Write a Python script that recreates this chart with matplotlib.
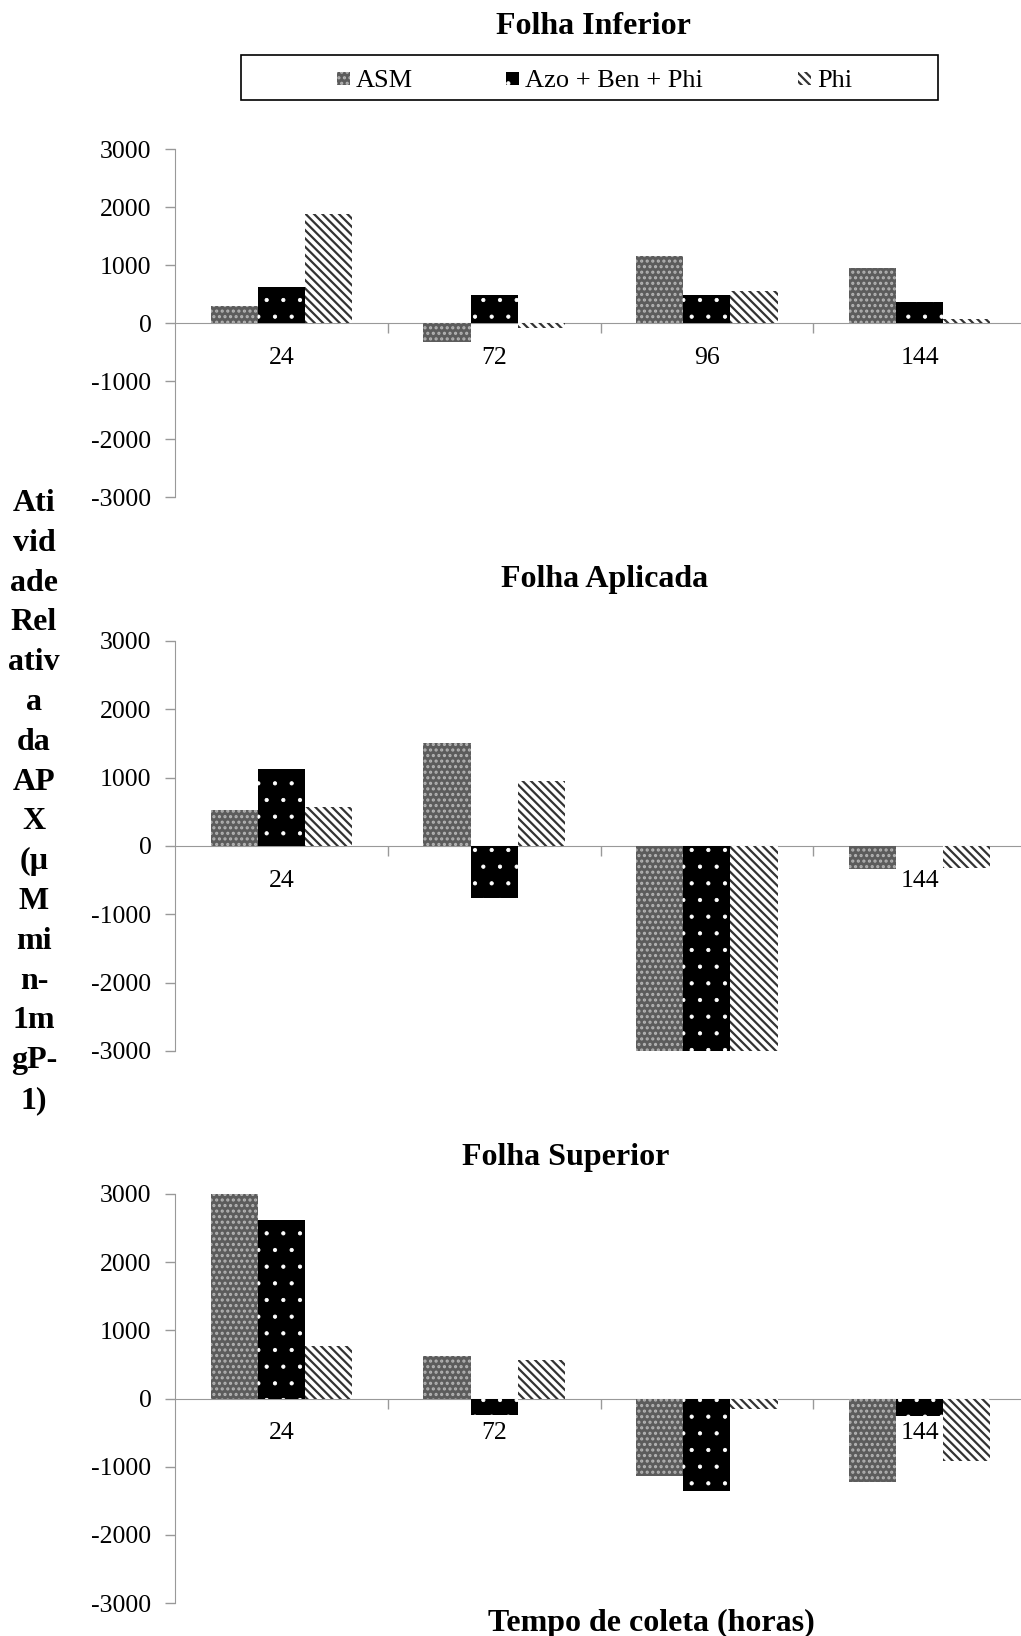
import numpy as np
import matplotlib
matplotlib.use("Agg")
import matplotlib.pyplot as plt
from matplotlib.patches import Rectangle

plt.rcParams['font.family'] = ['Liberation Serif', 'DejaVu Serif']
plt.rcParams['axes.unicode_minus'] = False

# sampling times (hours)
hours = ['24', '72', '96', '144']
series = ['ASM', 'Azo + Ben + Phi', 'Phi']

# relative APX activity
inferior_asm = [300, -320, 1150, 940]
inferior_azo = [620, 490, 490, 360]
inferior_phi = [1880, -80, 560, 70]

aplicada_asm = [520, 1500, -3000, -340]
aplicada_azo = [1130, -760, -3000, 0]
aplicada_phi = [565, 950, -3000, -320]

superior_asm = [3000, 630, -1130, -1225]
superior_azo = [2620, -245, -1350, -260]
superior_phi = [766, 567, -150, -920]

panels = [
    ('Folha Inferior', [inferior_asm, inferior_azo, inferior_phi]),
    ('Folha Aplicada', [aplicada_asm, aplicada_azo, aplicada_phi]),
    ('Folha Superior', [superior_asm, superior_azo, superior_phi]),
]

styles = [
    dict(facecolor='#5c5c5c', edgecolor='#b4b4b4', hatch='...'),
    dict(facecolor='black', edgecolor='white', hatch='.'),
    dict(facecolor='white', edgecolor='#333333', hatch='\\\\\\\\'),
]
hatch_lw = [1.5, 0.6, 1.6]

W, H = 1021, 1636
fig = plt.figure(figsize=(W / 100, H / 100), dpi=100)

# axes boxes in pixels: (top, bottom)
boxes = [(149, 497), (641, 1051), (1194, 1603)]
left_px = 175
width_px = 851

x = np.arange(len(hours))
bw = 0.222
gray = '#999999'

for (title, vals), (top, bot) in zip(panels, boxes):
    ax = fig.add_axes([left_px / W, 1 - bot / H, width_px / W, (bot - top) / H])
    for i, (v, st) in enumerate(zip(vals, styles)):
        with plt.rc_context({'hatch.linewidth': hatch_lw[i]}):
            ax.bar(x + (i - 1) * bw, v, width=bw, linewidth=0, zorder=2, **st)
    ax.set_xlim(-0.5, 3.5)
    ax.set_ylim(-3000, 3000)
    ax.set_yticks(np.arange(-3000, 3001, 1000))
    ax.tick_params(axis='y', labelsize=18.5, length=7, color=gray, pad=10, width=1)
    for s in ['top', 'right']:
        ax.spines[s].set_visible(False)
    ax.spines['left'].set_color(gray)
    ax.spines['bottom'].set_position(('data', 0))
    ax.spines['bottom'].set_color(gray)
    ax.spines['bottom'].set_zorder(1.5)
    ax.set_xticks([0.5, 1.5, 2.5])
    ax.set_xticklabels([])
    ax.tick_params(axis='x', length=7, color=gray, width=1)
    for xi, lab in zip(x, hours):
        ax.annotate(lab, (xi, 0), xytext=(0, -25), textcoords='offset points',
                    ha='center', va='center', fontsize=18.5, zorder=0.5)

fig.text(593 / W, 1 - 26 / H, 'Folha Inferior', ha='center', va='center',
         fontsize=23, fontweight='bold')
fig.text(605 / W, 1 - 579 / H, 'Folha Aplicada', ha='center', va='center',
         fontsize=23, fontweight='bold')
fig.text(566 / W, 1 - 1158 / H, 'Folha Superior', ha='center', va='center',
         fontsize=23, fontweight='bold')
fig.text(651 / W, 1 - 1623 / H, 'Tempo de coleta (horas)', ha='center', va='center',
         fontsize=23, fontweight='bold')

ylabel_lines = ['Ati', 'vid', 'ade', 'Rel', 'ativ', 'a', 'da', 'AP', 'X', '(\u00b5',
                'M', 'mi', 'n-', '1m', 'gP-', '1)']
fig.text(34 / W, 1 - 802 / H, '\n'.join(ylabel_lines), ha='center', va='center',
         fontsize=23, fontweight='bold', linespacing=1.49, multialignment='center')

# legend box
fig.patches.append(Rectangle((241 / W, 1 - 100 / H), (938 - 241) / W, 45 / H,
                             transform=fig.transFigure, fill=False,
                             edgecolor='black', linewidth=1.2))
leg_x = [356, 525, 817]
for i, (lx, name, st) in enumerate(zip(leg_x, series, styles)):
    with plt.rc_context({'hatch.linewidth': hatch_lw[i]}):
        fig.patches.append(Rectangle(((lx - 19) / W, 1 - 85 / H), 13 / W, 13 / H,
                                     transform=fig.transFigure, linewidth=0, **st))
    fig.text(lx / W, 1 - 81 / H, name, ha='left', va='center', fontsize=19)

fig.savefig('out.png', dpi=100)
